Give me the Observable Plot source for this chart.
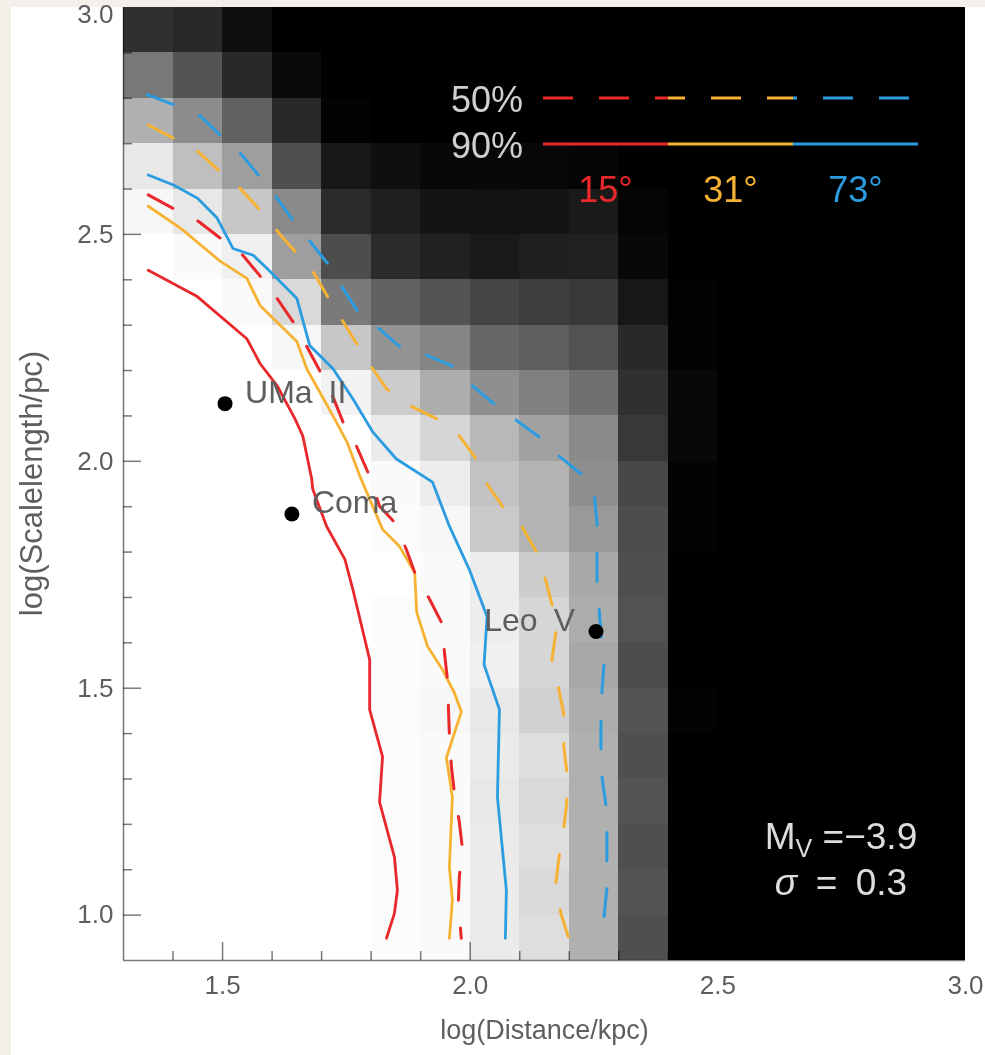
<!DOCTYPE html>
<html>
<head>
<meta charset="utf-8">
<script src="https://cdn.jsdelivr.net/npm/d3@7"></script>
<script src="https://cdn.jsdelivr.net/npm/@observablehq/plot@0.6"></script>
<style>
  html, body { margin: 0; padding: 0; background: #f4f0e9; }
  #wrap { position: absolute; left: 11px; top: 7px; width: 974px; height: 1048px; background: #fff; }
</style>
</head>
<body>
<div id="wrap"></div>
<script>
// Detection-efficiency grid: columns are log(Distance/kpc) bins, rows are log(Scalelength/pc) bins (top to bottom)
const distanceBins = [1.3, 1.4, 1.5, 1.6, 1.7, 1.8, 1.9, 2.0, 2.1, 2.2, 2.3, 2.4, 2.5, 2.6, 2.7, 2.8, 2.9];
const scaleBins = [2.9, 2.8, 2.7, 2.6, 2.5, 2.4, 2.3, 2.2, 2.1, 2.0, 1.9, 1.8, 1.7, 1.6, 1.5, 1.4, 1.3, 1.2, 1.1, 1.0, 0.9];
const binSize = 0.1;

// efficiency in percent, one row per scale bin
const efficiency = [
  [ 19,  16,   6,   0,   0,   0,   0,   0,   0,   0,   0, 0, 0, 0, 0, 0, 0],
  [ 47,  33,  16,   4,   0,   0,   0,   0,   0,   0,   0, 0, 0, 0, 0, 0, 0],
  [ 69,  55,  38,  16,   1,   0,   0,   0,   0,   0,   0, 0, 0, 0, 0, 0, 0],
  [ 91,  75,  62,  31,   9,   6,   3,   3,   3,   2,   0, 0, 0, 0, 0, 0, 0],
  [ 97,  91,  78,  54,  17,  12,   8,   7,   8,  10,   2, 0, 0, 0, 0, 0, 0],
  [100,  98,  94,  62,  30,  17,  13,  10,  12,  13,   3, 0, 0, 0, 0, 0, 0],
  [100, 100,  98,  85,  48,  38,  33,  27,  24,  22,   9, 1, 0, 0, 0, 0, 0],
  [100, 100, 100,  97,  78,  58,  52,  40,  37,  32,  16, 1, 0, 0, 0, 0, 0],
  [100, 100, 100, 100,  95,  80,  68,  56,  50,  44,  19, 3, 0, 0, 0, 0, 0],
  [100, 100, 100, 100, 100,  92,  84,  72,  63,  54,  22, 3, 0, 0, 0, 0, 0],
  [100, 100, 100, 100, 100,  98,  93,  76,  70,  56,  28, 1, 0, 0, 0, 0, 0],
  [100, 100, 100, 100, 100,  99,  97,  79,  70,  60,  30, 1, 0, 0, 0, 0, 0],
  [100, 100, 100, 100, 100, 100,  98,  93,  80,  66,  31, 0, 0, 0, 0, 0, 0],
  [100, 100, 100, 100, 100,  99,  98,  93,  84,  68,  32, 0, 0, 0, 0, 0, 0],
  [100, 100, 100, 100, 100,  99,  98,  94,  84,  66,  30, 0, 0, 0, 0, 0, 0],
  [100, 100, 100, 100, 100,  99,  97,  91,  82,  68,  33, 1, 0, 0, 0, 0, 0],
  [100, 100, 100, 100, 100,  99,  98,  92,  87,  69,  31, 0, 0, 0, 0, 0, 0],
  [100, 100, 100, 100, 100,  99,  98,  91,  85,  69,  33, 0, 0, 0, 0, 0, 0],
  [100, 100, 100, 100, 100,  99,  98,  92,  87,  69,  31, 0, 0, 0, 0, 0, 0],
  [100, 100, 100, 100, 100,  99,  98,  92,  85,  69,  33, 0, 0, 0, 0, 0, 0],
  [100, 100, 100, 100, 100,  99,  98,  92,  87,  69,  31, 0, 0, 0, 0, 0, 0]
];

// 90% completeness contours [logD, logR]
const red90 = [[1.350,2.421],[1.449,2.363],[1.549,2.270],[1.576,2.215],[1.610,2.167],[1.646,2.094],[1.662,2.056],[1.680,1.961],[1.682,1.939],[1.710,1.857],[1.747,1.784],[1.763,1.718],[1.797,1.563],[1.797,1.453],[1.823,1.349],[1.817,1.249],[1.847,1.128],[1.853,1.055],[1.847,1.004],[1.831,0.949]];
const orange90 = [[1.350,2.562],[1.415,2.514],[1.495,2.441],[1.549,2.403],[1.576,2.343],[1.650,2.264],[1.670,2.204],[1.723,2.100],[1.751,2.043],[1.777,1.968],[1.791,1.932],[1.823,1.850],[1.857,1.813],[1.888,1.755],[1.892,1.667],[1.914,1.592],[1.944,1.541],[1.968,1.490],[1.982,1.448],[1.952,1.347],[1.964,1.260],[1.958,1.106],[1.964,1.033],[1.958,0.949]];
const blue90 = [[1.350,2.631],[1.401,2.609],[1.449,2.580],[1.489,2.536],[1.521,2.469],[1.562,2.454],[1.590,2.425],[1.650,2.359],[1.676,2.255],[1.723,2.204],[1.763,2.138],[1.803,2.065],[1.851,2.005],[1.924,1.954],[1.958,1.857],[1.998,1.762],[2.034,1.658],[2.028,1.552],[2.059,1.453],[2.055,1.260],[2.073,1.055],[2.071,0.949]];

// 50% completeness contours [logD, logR]
const red50 = [[1.350,2.587],[1.399,2.558],[1.451,2.529],[1.495,2.492],[1.541,2.454],[1.576,2.408],[1.610,2.359],[1.642,2.308],[1.670,2.253],[1.696,2.200],[1.723,2.142],[1.743,2.087],[1.771,2.032],[1.793,1.977],[1.817,1.901],[1.847,1.866],[1.871,1.806],[1.888,1.755],[1.918,1.696],[1.942,1.645],[1.948,1.579],[1.954,1.519],[1.958,1.397],[1.962,1.327],[1.968,1.271],[1.978,1.205],[1.984,1.150],[1.978,1.083],[1.976,1.026],[1.982,0.949]];
const orange50 = [[1.350,2.741],[1.399,2.713],[1.449,2.684],[1.491,2.642],[1.535,2.602],[1.576,2.553],[1.616,2.500],[1.646,2.463],[1.682,2.419],[1.712,2.363],[1.743,2.308],[1.771,2.259],[1.803,2.204],[1.831,2.160],[1.883,2.120],[1.932,2.094],[1.978,2.056],[2.012,2.005],[2.034,1.950],[2.065,1.901],[2.105,1.855],[2.133,1.802],[2.153,1.736],[2.165,1.685],[2.173,1.623],[2.165,1.563],[2.179,1.497],[2.189,1.442],[2.189,1.371],[2.195,1.316],[2.195,1.247],[2.189,1.194],[2.179,1.125],[2.173,1.070],[2.183,1.004],[2.199,0.949]];
const blue50 = [[1.348,2.808],[1.401,2.786],[1.455,2.761],[1.495,2.719],[1.539,2.675],[1.572,2.631],[1.610,2.580],[1.642,2.531],[1.680,2.480],[1.712,2.436],[1.743,2.381],[1.773,2.330],[1.823,2.286],[1.857,2.253],[1.914,2.233],[1.962,2.211],[2.004,2.167],[2.053,2.122],[2.095,2.089],[2.139,2.054],[2.179,2.012],[2.224,1.972],[2.250,1.932],[2.256,1.866],[2.256,1.795],[2.256,1.740],[2.260,1.678],[2.264,1.623],[2.270,1.552],[2.266,1.492],[2.264,1.430],[2.264,1.369],[2.266,1.305],[2.274,1.243],[2.276,1.181],[2.276,1.121],[2.276,1.059],[2.270,0.995]];

// known satellites
const satNames = ["UMa II", "Coma", "Leo V"];
const satDistance = [1.505, 1.640, 2.254];
const satScale = [2.127, 1.884, 1.625];

// axis ticks
const xLabels = [1.5, 2.0, 2.5, 3.0];
const yLabels = [1.0, 1.5, 2.0, 2.5];
const yTopLabel = [3.0];
const xMinor = [1.4, 1.6, 1.7, 1.8, 1.9, 2.1, 2.2, 2.3, 2.4, 2.6, 2.7, 2.8, 2.9];
const xMajor = [1.5, 2.0, 2.5];
const yMinor = [1.1, 1.2, 1.3, 1.4, 1.6, 1.7, 1.8, 1.9, 2.1, 2.2, 2.3, 2.4, 2.6, 2.7, 2.8, 2.9];
const yMajor = [1.0, 1.5, 2.0, 2.5];

// legend content
const inclinations = ["15°", "31°", "73°"];
const levels = ["50%", "90%"];

const RED = "#e8282b", ORANGE = "#f6b233", BLUE = "#2b9ce0";
const lineColors = [RED, ORANGE, BLUE];
const FONT = "Liberation Sans, Arial, sans-serif";
const INK = "#5e5e5e";

const cells = [];
efficiency.forEach((row, r) => row.forEach((v, c) => {
  cells.push({x1: distanceBins[c], x2: distanceBins[c] + binSize, y1: scaleBins[r], y2: scaleBins[r] + binSize, v});
}));
const sats = satNames.map((name, i) => ({name, x: satDistance[i], y: satScale[i]}));

const W = 974, H = 1048;
const mL = 112, mR = 20, mT = 0, mB = 95;
const frameW = W - mL - mR, frameH = H - mT - mB;
const axisGrey = "#7a7a7a";

const pt = d => d[0], py = d => d[1];
const dash = "28,28";
// ticks multiply onto the image: grey over white cells, invisible over black ones
const tickStyle = {stroke: axisGrey, strokeWidth: 1.5, mixBlendMode: "multiply"};

const chart = Plot.plot({
  width: W, height: H,
  marginLeft: mL, marginRight: mR, marginTop: mT, marginBottom: mB,
  x: {domain: [1.3, 3.0]},
  y: {domain: [0.9, 3.0]},
  color: {type: "linear", domain: [0, 100], range: ["#000000", "#ffffff"]},
  style: {fontFamily: FONT, color: INK, background: "#fff", overflow: "visible"},
  marks: [
    Plot.rect(cells, {x1: "x1", x2: "x2", y1: "y1", y2: "y2", fill: "v", shapeRendering: "crispEdges"}),
    Plot.line(red90, {x: pt, y: py, stroke: RED, strokeWidth: 2.8}),
    Plot.line(orange90, {x: pt, y: py, stroke: ORANGE, strokeWidth: 2.8}),
    Plot.line(blue90, {x: pt, y: py, stroke: BLUE, strokeWidth: 2.8}),
    Plot.line(red50, {x: pt, y: py, stroke: RED, strokeWidth: 3, strokeDasharray: dash}),
    Plot.line(orange50, {x: pt, y: py, stroke: ORANGE, strokeWidth: 3, strokeDasharray: dash}),
    Plot.line(blue50, {x: pt, y: py, stroke: BLUE, strokeWidth: 3, strokeDasharray: dash}),
    Plot.dot(sats, {x: "x", y: "y", r: 7.5, fill: "#000", stroke: null}),
    Plot.text(sats.filter(d => d.name !== "Leo V"), {x: "x", y: "y", text: d => d.name.replace(" ", "\u2002"), textAnchor: "start", dx: 20, dy: -11, fontSize: 32, fill: INK}),
    Plot.text(sats.filter(d => d.name === "Leo V"), {x: "x", y: "y", text: d => d.name.replace(" ", "\u2002"), textAnchor: "end", dx: -21, dy: -11, fontSize: 32, fill: INK}),
    // frame lines and inward ticks
    Plot.ruleX([1.3], tickStyle),
    Plot.ruleY([0.9], tickStyle),
    Plot.tickX(xMinor, {x: d => d, ...tickStyle, insetTop: frameH - 9}),
    Plot.tickX(xMajor, {x: d => d, ...tickStyle, insetTop: frameH - 18}),
    Plot.tickY(yMinor, {y: d => d, ...tickStyle, insetRight: frameW - 9}),
    Plot.tickY(yMajor, {y: d => d, ...tickStyle, insetRight: frameW - 18}),
    Plot.axisX({ticks: xLabels, tickFormat: d3.format(".1f"), tickSize: 0, tickPadding: 15, fontSize: 26}),
    Plot.axisY({ticks: yLabels, tickFormat: d3.format(".1f"), tickSize: 0, tickPadding: 10, fontSize: 26}),
    Plot.axisY({ticks: yTopLabel, tickFormat: d3.format(".1f"), tickSize: 0, tickPadding: 10, fontSize: 26, dy: 7}),
    Plot.text(["log(Distance/kpc)"], {frameAnchor: "bottom", dy: 78, fontSize: 27, fill: INK})
  ]
});

document.getElementById("wrap").appendChild(chart);

const svg = d3.select(chart);

// y-axis title
svg.append("text")
  .attr("transform", `translate(20,${mT + frameH / 2}) rotate(-90)`)
  .attr("text-anchor", "middle").attr("dominant-baseline", "central")
  .attr("font-family", FONT).attr("font-size", 31).attr("fill", INK)
  .text("log(Scalelength/pc)");

// legend: line styles per completeness level, colours per inclination
const lg = svg.append("g").attr("font-family", FONT);
const legX0 = 532, segW = 125, rowY = [91, 137], period = 56;
levels.forEach((lab, i) => {
  lg.append("text").attr("x", 512).attr("y", rowY[i] + 14).attr("text-anchor", "end")
    .attr("font-size", 36).attr("fill", "#cfcfcf").text(lab);
  lineColors.forEach((col, k) => {
    const ln = lg.append("line")
      .attr("x1", legX0 + k * segW).attr("x2", legX0 + (k + 1) * segW)
      .attr("y1", rowY[i]).attr("y2", rowY[i])
      .attr("stroke", col).attr("stroke-width", 3);
    if (i === 0) ln.attr("stroke-dasharray", "30,26").attr("stroke-dashoffset", (k * segW) % period);
  });
});
inclinations.forEach((lab, k) => {
  lg.append("text").attr("x", legX0 + (k + 0.5) * segW).attr("y", 195).attr("text-anchor", "middle")
    .attr("font-size", 36).attr("fill", lineColors[k]).text(lab);
});

// model parameters
const ann = svg.append("g").attr("font-family", FONT).attr("fill", "#dddddd").attr("font-size", 37).attr("text-anchor", "middle");
const t1 = ann.append("text").attr("x", 830).attr("y", 842);
t1.append("tspan").text("M");
t1.append("tspan").attr("font-size", 25).attr("dy", 8).text("V");
t1.append("tspan").attr("dy", -8).text(" =\u22123.9");
const t2 = ann.append("text").attr("x", 830).attr("y", 888);
t2.append("tspan").attr("font-style", "italic").text("σ");
t2.append("tspan").text("\u2002=\u20020.3");
</script>
</body>
</html>
